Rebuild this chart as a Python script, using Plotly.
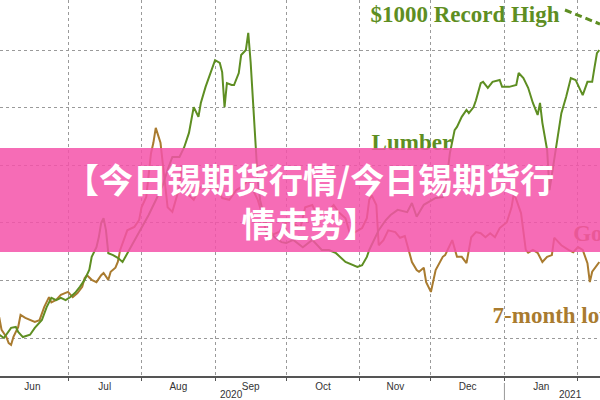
import plotly.graph_objects as go

# ---------------- data ----------------
gold_dates = [
    "2020-06-02", "2020-06-03", "2020-06-05", "2020-06-06", "2020-06-07", "2020-06-08", "2020-06-10", "2020-06-11",
    "2020-06-13", "2020-06-15", "2020-06-17", "2020-06-19", "2020-06-21", "2020-06-23", "2020-06-24", "2020-06-26",
    "2020-06-28",
    "2020-07-01", "2020-07-03", "2020-07-05", "2020-07-07", "2020-07-08", "2020-07-09", "2020-07-11", "2020-07-13",
    "2020-07-15", "2020-07-16", "2020-07-18", "2020-07-19", "2020-07-21", "2020-07-22", "2020-07-23", "2020-07-25",
    "2020-07-26", "2020-07-28", "2020-07-29", "2020-07-31",
    "2020-08-01", "2020-08-03", "2020-08-04", "2020-08-05", "2020-08-06", "2020-08-07", "2020-08-09", "2020-08-11",
    "2020-08-12", "2020-08-14", "2020-08-15", "2020-08-17", "2020-08-18", "2020-08-19", "2020-08-21", "2020-08-23",
    "2020-08-25", "2020-08-27", "2020-08-29",
    "2020-09-01", "2020-09-04", "2020-09-07", "2020-09-10", "2020-09-12", "2020-09-15", "2020-09-17", "2020-09-19",
    "2020-09-21", "2020-09-23", "2020-09-25", "2020-09-28", "2020-09-30",
    "2020-10-02", "2020-10-05", "2020-10-07", "2020-10-09", "2020-10-12", "2020-10-14", "2020-10-16", "2020-10-19",
    "2020-10-21", "2020-10-23", "2020-10-26", "2020-10-28", "2020-10-30",
    "2020-11-02", "2020-11-04", "2020-11-05", "2020-11-06", "2020-11-08", "2020-11-09", "2020-11-11", "2020-11-13",
    "2020-11-16", "2020-11-18", "2020-11-20", "2020-11-23", "2020-11-25", "2020-11-26", "2020-11-28", "2020-11-29",
    "2020-12-01", "2020-12-03", "2020-12-06", "2020-12-07", "2020-12-10", "2020-12-12", "2020-12-14", "2020-12-16",
    "2020-12-17", "2020-12-18", "2020-12-20", "2020-12-22", "2020-12-24", "2020-12-26", "2020-12-28", "2020-12-30",
    "2021-01-02", "2021-01-03", "2021-01-04", "2021-01-05", "2021-01-06", "2021-01-08", "2021-01-10", "2021-01-11",
    "2021-01-13", "2021-01-15", "2021-01-17", "2021-01-19", "2021-01-21", "2021-01-22", "2021-01-23", "2021-01-25",
    "2021-01-28", "2021-01-30",
    "2021-02-01", "2021-02-03", "2021-02-05", "2021-02-06", "2021-02-07", "2021-02-09", "2021-02-10",
]
gold_values = [
    1736, 1714, 1702, 1691, 1688, 1702, 1719, 1740, 1735, 1731, 1728, 1731, 1754, 1771, 1762, 1766, 1775,
    1780, 1771, 1778, 1789, 1804, 1809, 1801, 1797, 1809, 1813, 1801, 1815, 1822, 1832, 1853, 1875, 1887, 1891, 1893, 1905,
    1927, 1945, 1986, 2021, 2039, 2065, 2039, 1969, 1927, 1919, 1934, 1962, 2000, 1992, 1948, 1940, 1957, 1966, 1957,
    1969, 1943, 1940, 1957, 1962, 1974, 1957, 1940, 1913, 1874, 1879, 1884, 1896,
    1905, 1896, 1891, 1927, 1931, 1913, 1919, 1922, 1931, 1919, 1908, 1879, 1884,
    1891, 1908, 1940, 1948, 1931, 1861, 1870, 1887, 1884, 1874, 1877, 1832, 1818, 1815, 1822, 1797,
    1780, 1818, 1841, 1844, 1870, 1841, 1841, 1830, 1853, 1875, 1884, 1882, 1875, 1882, 1875, 1891,
    1901, 1914, 1927, 1952, 1940, 1917, 1853, 1848, 1853, 1848, 1832, 1841, 1844, 1874, 1870, 1861, 1853, 1849,
    1858, 1853, 1830, 1797, 1815, 1827, 1832,
]

lumber_dates = [
    "2020-06-02", "2020-06-04", "2020-06-07", "2020-06-09", "2020-06-10", "2020-06-12", "2020-06-15", "2020-06-17",
    "2020-06-20", "2020-06-22", "2020-06-24", "2020-06-26", "2020-06-28", "2020-06-30",
    "2020-07-02", "2020-07-04", "2020-07-06", "2020-07-08", "2020-07-10", "2020-07-11", "2020-07-13", "2020-07-14",
    "2020-07-15", "2020-07-16", "2020-07-17", "2020-07-18", "2020-07-20", "2020-07-22", "2020-07-24", "2020-07-26",
    "2020-07-29",
    "2020-08-01", "2020-08-04", "2020-08-07", "2020-08-10", "2020-08-12", "2020-08-14", "2020-08-17", "2020-08-19",
    "2020-08-21", "2020-08-23", "2020-08-25", "2020-08-26", "2020-08-28", "2020-08-31",
    "2020-09-01", "2020-09-03", "2020-09-04", "2020-09-05", "2020-09-06", "2020-09-08", "2020-09-09", "2020-09-11",
    "2020-09-12", "2020-09-14", "2020-09-15", "2020-09-16", "2020-09-17", "2020-09-18", "2020-09-19", "2020-09-20",
    "2020-09-22", "2020-09-24", "2020-09-26", "2020-09-29",
    "2020-10-01", "2020-10-04", "2020-10-08", "2020-10-12", "2020-10-16", "2020-10-19", "2020-10-22", "2020-10-26",
    "2020-10-31",
    "2020-11-02", "2020-11-04", "2020-11-05", "2020-11-09", "2020-11-12", "2020-11-14", "2020-11-17", "2020-11-21",
    "2020-11-23", "2020-11-25", "2020-11-28",
    "2020-12-01", "2020-12-03", "2020-12-06", "2020-12-08", "2020-12-09", "2020-12-11", "2020-12-12", "2020-12-14",
    "2020-12-16", "2020-12-17", "2020-12-19", "2020-12-20", "2020-12-22", "2020-12-23", "2020-12-25", "2020-12-27",
    "2020-12-30", "2020-12-31",
    "2021-01-03", "2021-01-06", "2021-01-07", "2021-01-09", "2021-01-11", "2021-01-13", "2021-01-15", "2021-01-16",
    "2021-01-17", "2021-01-19", "2021-01-20", "2021-01-21", "2021-01-23", "2021-01-25", "2021-01-27", "2021-01-29",
    "2021-01-31",
    "2021-02-03", "2021-02-05", "2021-02-07", "2021-02-08", "2021-02-09", "2021-02-10",
]
lumber_values = [
    332, 325, 347, 349, 338, 327, 332, 347, 364, 392, 412, 407, 412, 407,
    414, 423, 436, 451, 473, 501, 522, 544, 575, 585, 559, 509, 505, 499, 490, 509, 538,
    564, 592, 624, 657, 690, 718, 718, 739, 770, 826, 805, 835, 870, 913,
    928, 922, 902, 826, 878, 874, 874, 900, 939, 950, 987, 924, 841, 733, 668, 624, 581, 559, 544, 533,
    531, 538, 522, 538, 516, 516, 509, 490, 479,
    483, 501, 516, 559, 581, 592, 603, 598, 618, 588, 614,
    624, 629, 631, 683, 726, 776, 783, 805, 820, 813, 826, 841, 878, 881, 868, 881, 885, 870,
    870, 874, 900, 889, 868, 835, 809, 835, 792, 733, 646, 679, 755, 813, 848, 889, 885,
    852, 881, 881, 913, 943, 950,
]

year_labels = ["2020", "2021"]
year_label_dates = ["2020-09-08", "2021-01-29"]

GREEN = "#5e8e22"
BROWN = "#a97b2f"
SERIF = "Liberation Serif"

fig = go.Figure()
fig.add_trace(go.Scatter(x=gold_dates, y=gold_values, mode="lines",
                         line=dict(color=BROWN, width=2), yaxis="y", hoverinfo="skip"))
fig.add_trace(go.Scatter(x=lumber_dates, y=lumber_values, mode="lines",
                         line=dict(color=GREEN, width=2), yaxis="y2", hoverinfo="skip"))

# in-chart labels (drawn as text traces so the banner lies over them)
fig.add_trace(go.Scatter(x=["2020-11-05 12:00", "2020-11-06"], y=[2259, 2037], mode="text",
                         text=["$1000 Record High", "Lumber"], textposition="middle right",
                         textfont=dict(family=SERIF, size=23, color=GREEN, weight="bold"),
                         yaxis="y", hoverinfo="skip", cliponaxis=False))
fig.add_trace(go.Scatter(x=["2021-01-30", "2020-12-27"], y=[1879, 1736], mode="text",
                         text=["Gold", "7-month low"], textposition="middle right",
                         textfont=dict(family=SERIF, size=23, color=BROWN, weight="bold"),
                         yaxis="y", hoverinfo="skip", cliponaxis=False))

PH = 376.0  # plot-area height in px
def py(px):
    return (PH - px) / PH

shapes = [
    # pink banner
    dict(type="rect", xref="paper", yref="paper", x0=0, x1=1, y0=py(252), y1=py(148),
         fillcolor="rgba(245,82,169,0.85)", line=dict(width=0), layer="above"),
    # dashed arrow towards the record high
    dict(type="line", xref="paper", yref="paper", x0=565 / 600, y0=py(10), x1=1.0, y1=py(24),
         line=dict(color=GREEN, width=3, dash="7px,4px"), layer="above"),
    # year separator under the axis
    dict(type="line", xref="x", yref="paper", x0="2021-01-01", x1="2021-01-01", y0=py(383), y1=py(400),
         line=dict(color="#999", width=1)),
]

annotations = [
    dict(text="【今日锡期货行情/今日锡期货行<br>情走势】", xref="paper", yref="paper",
         x=309 / 600, y=py(201), xanchor="center", yanchor="middle", showarrow=False,
         font=dict(family="Noto Sans CJK SC", size=34, color="white", weight="bold")),
]
for lab, d in zip(year_labels, year_label_dates):
    annotations.append(dict(text=lab, xref="x", yref="paper", x=d, y=py(394.5), xanchor="center",
                            yanchor="middle", showarrow=False,
                            font=dict(family="Liberation Sans", size=10, color="#333")))

fig.update_layout(
    width=600, height=400, autosize=False,
    margin=dict(l=0, r=0, t=0, b=24),
    paper_bgcolor="white", plot_bgcolor="white",
    showlegend=False,
    shapes=shapes, annotations=annotations,
    xaxis=dict(type="date", range=["2020-06-02 08:00", "2021-02-10 07:00"],
               dtick="M1", tick0="2020-06-01", tickformat="%b", ticklabelmode="period",
               showgrid=True, gridcolor="#9a9a9a", griddash="dot", gridwidth=1,
               showline=True, linecolor="#555", linewidth=1.5,
               ticks="outside", ticklen=3, tickcolor="#555", ticklabelstandoff=-3,
               tickfont=dict(family="Liberation Sans", size=10, color="#333")),
    yaxis=dict(range=[1634, 2287], dtick=100, tick0=1700, showgrid=True, gridcolor="#9a9a9a",
               griddash="dot", gridwidth=1, showticklabels=False, zeroline=False, ticks=""),
    yaxis2=dict(range=[242.5, 1058.5], overlaying="y", side="right", showgrid=False,
                showticklabels=False, zeroline=False, ticks=""),
)

fig.write_html("out.html", config={"displayModeBar": False},
               post_script="document.body.style.margin='0px';")
